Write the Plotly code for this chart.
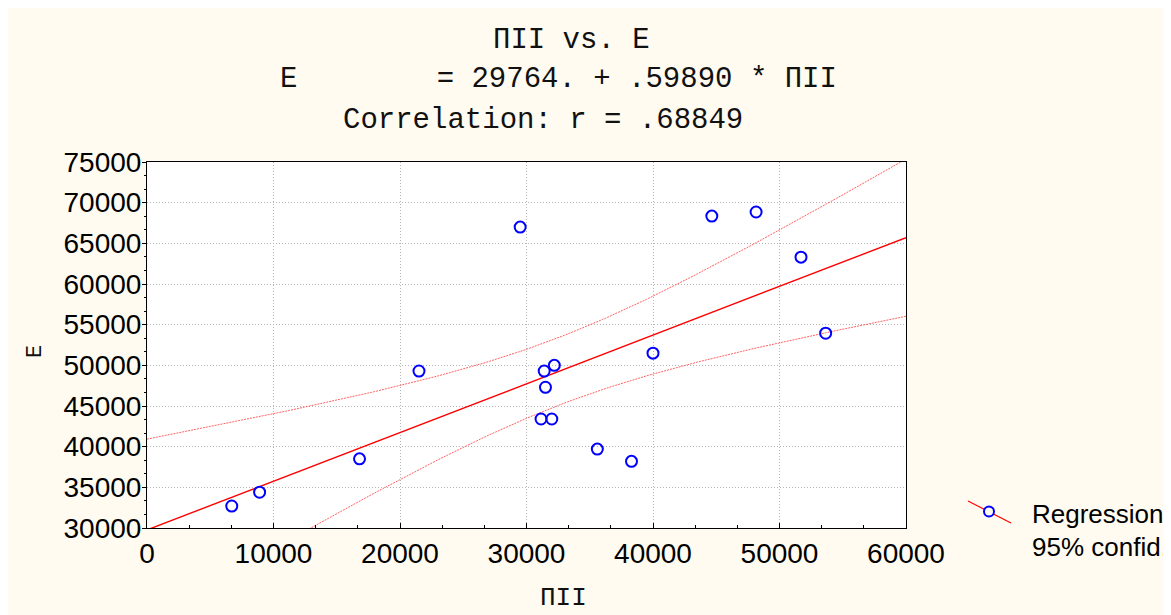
import numpy as np
import plotly.graph_objects as go

# ---- data ----
pii = [6700, 8900, 16800, 21500, 29500, 31400, 31500, 31150, 32000, 32200,
       35600, 38300, 40000, 44650, 48150, 51700, 53650]
e_vals = [32700, 34400, 38500, 49300, 67000, 49300, 47300, 43400, 43400, 50000,
          39700, 38200, 51500, 68350, 68850, 63300, 53950]
intercept = 29764.0
slope = 0.59890
crit = 1.96  # critical value used for the 95% confidence band

title_lines = ["ΠII vs. E",
               "E        = 29764. + .59890 * ΠII",
               "Correlation: r = .68849"]
x_title = "ΠII"
y_title = "E"
legend_lines = ["Regression", "95% confid."]

# ---- geometry (page pixels; the figure sits at an 8px body offset) ----
OFF = 8
W, H = 1171, 615
L, R, T, B = 147, 906, 162, 528


def px(xp):
    return (xp - L) / (R - L)


def py(yp):
    return (B - yp) / (B - T)


xa = np.array(pii, float)
ya = np.array(e_vals, float)
n = len(xa)
resid = ya - (intercept + slope * xa)
s = np.sqrt(np.sum(resid ** 2) / (n - 2))
sxx = np.sum((xa - xa.mean()) ** 2)
xs = np.linspace(0, 60000, 241)
yfit = intercept + slope * xs
half = crit * s * np.sqrt(1.0 / n + (xs - xa.mean()) ** 2 / sxx)

fig = go.Figure()
band_line = dict(color="rgba(255,70,70,0.85)", width=1, dash="2px,1px")
fig.add_trace(go.Scatter(x=xs, y=yfit + half, mode="lines", line=band_line,
                         hoverinfo="skip"))
fig.add_trace(go.Scatter(x=xs, y=yfit - half, mode="lines", line=band_line,
                         hoverinfo="skip"))
fig.add_trace(go.Scatter(x=xs, y=yfit, mode="lines",
                         line=dict(color="#ff0000", width=1.4), hoverinfo="skip"))
fig.add_trace(go.Scatter(x=pii, y=e_vals, mode="markers",
                         marker=dict(symbol="circle-open", size=11,
                                     color="#0000ff", line=dict(width=2, color="#0000ff"))))

cream = "#fffbf0"
tickfont = dict(family="Liberation Sans, Arial", size=28, color="black")
mono = "Liberation Mono, Courier New, monospace"
grid = dict(showgrid=True, gridcolor="#b4b4b4", griddash="1px,2px", gridwidth=1)

fig.update_layout(
    width=W, height=H,
    margin=dict(l=L - OFF, r=W - R + OFF, t=T - OFF, b=H - B + OFF, pad=0),
    paper_bgcolor=cream, plot_bgcolor="white",
    showlegend=False,
    xaxis=dict(range=[0, 60000], dtick=10000, tick0=0, tickformat="d",
               showline=True, linecolor="black", linewidth=1, mirror=True,
               ticks="inside", ticklen=5, tickcolor="black",
               minor=dict(dtick=10000 / 3, ticks="inside", ticklen=3,
                          tickcolor="black", showgrid=False),
               tickfont=tickfont, zeroline=False, **grid),
    yaxis=dict(range=[30000, 75000], dtick=5000, tick0=30000, tickformat="d",
               showline=True, linecolor="black", linewidth=1, mirror=True,
               ticks="outside", ticklen=4, tickcolor="black",
               ticklabelstandoff=-5,
               minor=dict(dtick=5000 / 3, ticks="outside", ticklen=2,
                          tickcolor="black", showgrid=False),
               tickfont=tickfont, zeroline=False, **grid),
    yaxis2=dict(range=[30000, 75000], dtick=5000, tick0=30000, overlaying="y",
                side="right", showticklabels=False, showgrid=False,
                ticks="inside", ticklen=5, tickcolor="black", zeroline=False,
                minor=dict(dtick=5000 / 3, ticks="inside", ticklen=3,
                           tickcolor="black", showgrid=False)),
)

# title lines
title_pos = [(571, 40), (558, 80), (543, 120)]
for txt, (cx, cy) in zip(title_lines, title_pos):
    fig.add_annotation(text=txt, x=px(cx), y=py(cy), xref="paper", yref="paper",
                       showarrow=False, xanchor="center", yanchor="middle",
                       font=dict(family=mono, size=29, color="#111111"))

fig.add_annotation(text=x_title, x=px(563), y=py(598), xref="paper", yref="paper",
                   showarrow=False, xanchor="center", yanchor="middle",
                   font=dict(family=mono, size=26, color="#111111"))
fig.add_annotation(text=y_title, x=px(35), y=py(352), xref="paper", yref="paper",
                   showarrow=False, xanchor="center", yanchor="middle", textangle=-90,
                   font=dict(family=mono, size=22, color="#111111"))

# legend
fig.add_shape(type="line", xref="paper", yref="paper",
              x0=px(968), y0=py(501), x1=px(1011), y1=py(523),
              line=dict(color="#ff0000", width=1.2))
fig.add_shape(type="circle", xref="paper", yref="paper",
              xsizemode="pixel", ysizemode="pixel",
              xanchor=px(989), yanchor=py(511.5),
              x0=-5, x1=5, y0=-5, y1=5,
              line=dict(color="#0000ff", width=2), fillcolor=cream)
for txt, cy in zip(legend_lines, [514, 547]):
    fig.add_annotation(text=txt, x=px(1030), y=py(cy), xref="paper", yref="paper",
                       showarrow=False, xanchor="left", yanchor="middle",
                       font=dict(family="Liberation Sans, Arial", size=26, color="black"))

fig.write_html("out.html")
